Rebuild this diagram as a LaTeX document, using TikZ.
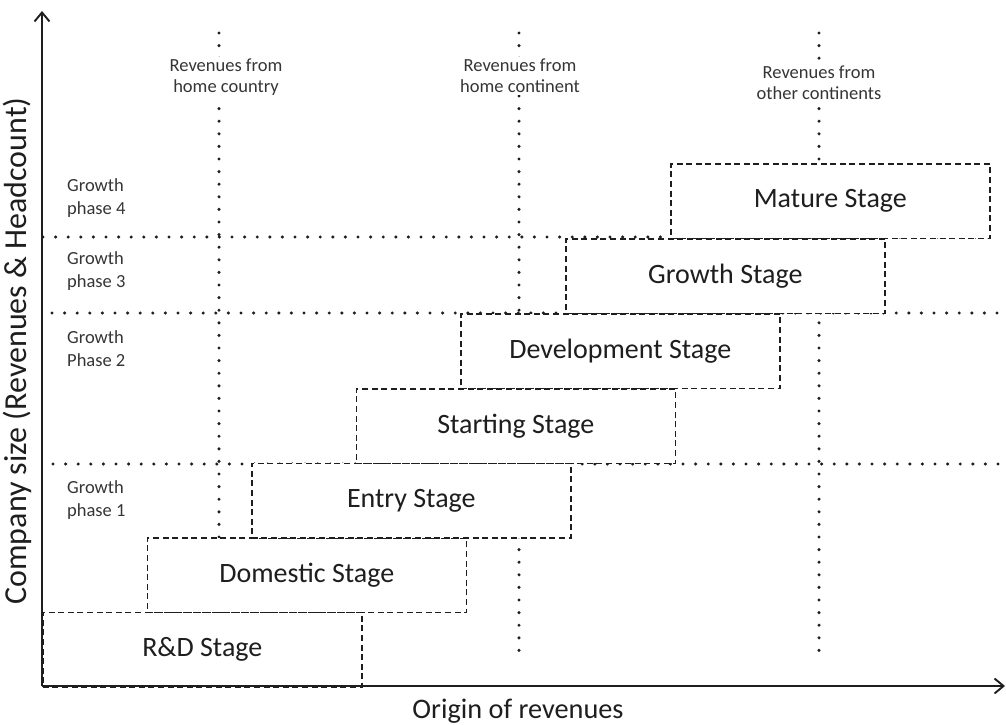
\documentclass[tikz,border=0pt]{standalone}
\usepackage{fontspec}
\setmainfont{Carlito}
\usetikzlibrary{arrows.meta}
\definecolor{ink}{HTML}{1E1E1E}
\definecolor{txt}{HTML}{1E1E1E}
\tikzset{
  stagebox/.style={draw=ink, fill=white, line width=1.6pt,
    dash pattern=on 6pt off 3.6pt, minimum width=319pt, minimum height=74.5pt,
    anchor=north west, inner sep=0pt, text=txt,
    font=\fontsize{28}{32}\selectfont},
  gridline/.style={draw=ink, line width=3.4pt, line cap=round,
    dash pattern=on 0pt off 12.6pt},
  collabel/.style={fill=white, inner sep=2pt, align=center, text=txt!90,
    font=\fontsize{18.5}{21}\selectfont},
  phaselabel/.style={anchor=west, inner sep=0pt, align=left, text=txt!90,
    font=\fontsize{18.5}{23}\selectfont},
  axis/.style={draw=ink, line width=1.9pt},
  axislabel/.style={text=txt, inner sep=0pt}
}
\begin{document}
\begin{tikzpicture}[x=1pt,y=-1pt]
\useasboundingbox (0,0) rectangle (1006,725);

% origin and axis ends
\coordinate (O) at (42,686);
\coordinate (ytop) at (42,11);
\coordinate (xend) at (1005,686);

% horizontal grid between growth phases
\draw[gridline] (43,237) -- (1000,237);
\draw[gridline] (52,313) -- (1000,313);
\draw[gridline] (53,464) -- (1000,464);

% vertical grid for revenue origins
\draw[gridline] (219,33) -- (219,652);
\draw[gridline] (519,33) -- (519,652);
\draw[gridline] (819,33) -- (819,652);

\node[collabel] (home)  at (226,77.5) {Revenues from\\home country};
\node[collabel] (cont)  at (520,76)   {Revenues from\\home continent};
\node[collabel] (other) at (819,82.5) {Revenues from\\other continents};

% growth phases
\node[phaselabel] (p4) at (67,198.5) {Growth\\phase 4};
\node[phaselabel] (p3) at (67,271.5) {Growth\\phase 3};
\node[phaselabel] (p2) at (67,348.5) {Growth\\Phase 2};
\node[phaselabel] (p1) at (67,500.5) {Growth\\phase 1};

% stages, each one step up and to the right
\node[stagebox] (rd)     at (42,611.5)  {R\&D Stage};
\node[stagebox] (dom)    at (146.5,537) {Domestic Stage};
\node[stagebox] (entry)  at (251,462.5) {Entry Stage};
\node[stagebox] (start)  at (355.5,388) {Starting Stage};
\node[stagebox] (dev)    at (460,313)   {Development Stage};
\node[stagebox] (growth) at (565,238)   {Growth Stage};
\node[stagebox] (mature) at (670,163)   {Mature Stage};

% axes
\draw[axis, -{Straight Barb[length=9pt,width=15pt,line width=1.9pt]}] (O) -- (ytop);
\draw[axis, -{Straight Barb[length=9pt,width=15pt,line width=1.9pt]}] (O) -- (xend);

\node[axislabel, font=\fontsize{28.3}{32}\selectfont] (xlab) at (518,711) {Origin of revenues};
\node[axislabel, rotate=90, font=\fontsize{32}{35}\selectfont] (ylab) at (17,351) {Company size (Revenues \& Headcount)};
\end{tikzpicture}
\end{document}
